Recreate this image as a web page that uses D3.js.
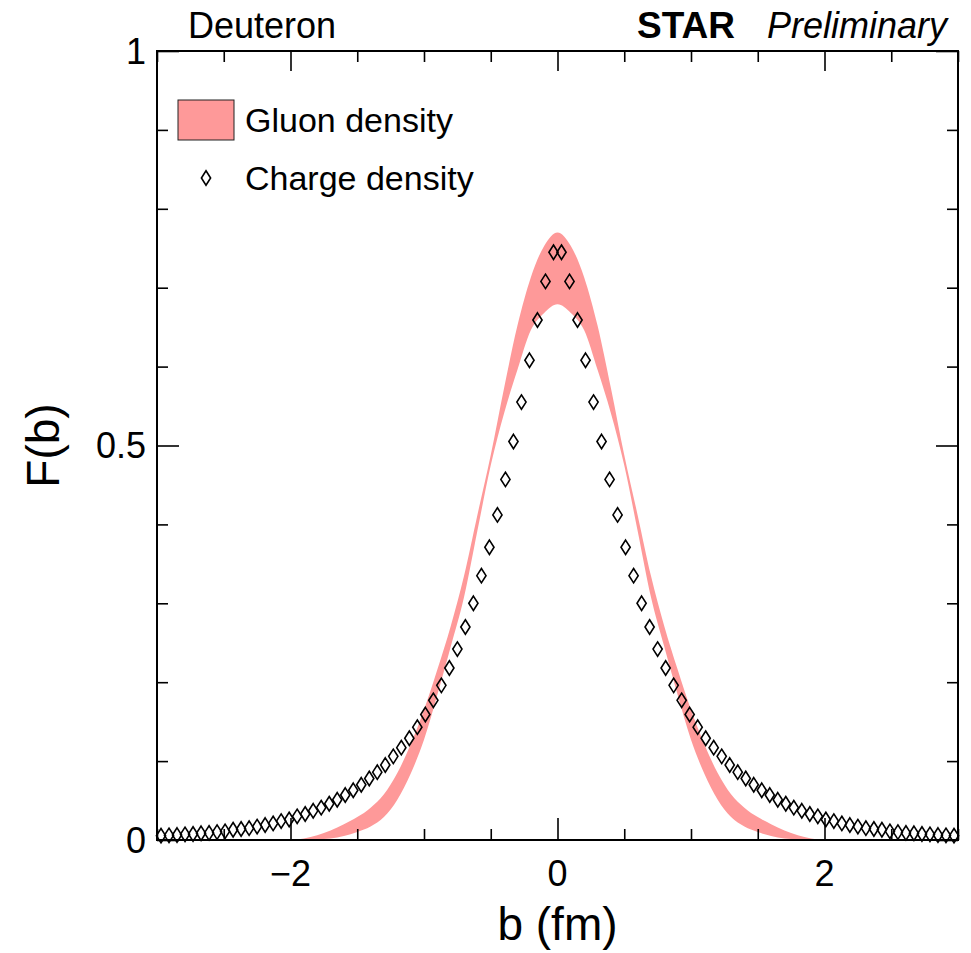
<!DOCTYPE html>
<html>
<head>
<meta charset="utf-8">
<script src="https://cdn.jsdelivr.net/npm/d3@7"></script>
<style>
  html, body { margin: 0; padding: 0; background: #fff; }
  svg { display: block; font-family: "Liberation Sans", Arial, Helvetica, sans-serif; }
</style>
</head>
<body>
<svg id="chart" width="971" height="953"></svg>
<script>
// ---------------- data ----------------
const gluonB = [-2.0,-1.9,-1.8,-1.7,-1.6,-1.5,-1.4,-1.3,-1.2,-1.1,-1.0,-0.9,-0.8,-0.7,-0.6,-0.5,-0.4,-0.3,-0.2,-0.1,
                 0.0, 0.1, 0.2, 0.3, 0.4, 0.5, 0.6, 0.7, 0.8, 0.9, 1.0, 1.1, 1.2, 1.3, 1.4, 1.5, 1.6, 1.7, 1.8, 1.9, 2.0];
const gluonUpper = [0.000,0.002,0.006,0.012,0.020,0.029,0.041,0.058,0.085,0.121,0.165,0.216,0.271,0.335,0.412,0.488,0.573,0.652,0.713,0.753,
                    0.770,
                    0.753,0.713,0.652,0.573,0.488,0.412,0.335,0.271,0.216,0.165,0.121,0.085,0.058,0.041,0.029,0.020,0.012,0.006,0.002,0.000];
const gluonLower = [0.000,0.000,0.001,0.002,0.005,0.010,0.017,0.029,0.051,0.084,0.127,0.184,0.245,0.308,0.392,0.475,0.541,0.596,0.646,0.668,
                    0.679,
                    0.668,0.646,0.596,0.541,0.475,0.392,0.308,0.245,0.184,0.127,0.084,0.051,0.029,0.017,0.010,0.005,0.002,0.001,0.000,0.000];

const chargeB = [-2.97,-2.91,-2.85,-2.79,-2.73,-2.67,-2.61,-2.55,-2.49,-2.43,-2.37,-2.31,-2.25,-2.19,-2.13,-2.07,-2.01,-1.95,-1.89,-1.83,
                 -1.77,-1.71,-1.65,-1.59,-1.53,-1.47,-1.41,-1.35,-1.29,-1.23,-1.17,-1.11,-1.05,-0.99,-0.93,-0.87,-0.81,-0.75,-0.69,-0.63,
                 -0.57,-0.51,-0.45,-0.39,-0.33,-0.27,-0.21,-0.15,-0.09,-0.03,
                  0.03, 0.09, 0.15, 0.21, 0.27, 0.33, 0.39, 0.45, 0.51, 0.57, 0.63, 0.69, 0.75, 0.81, 0.87, 0.93, 0.99, 1.05, 1.11, 1.17,
                  1.23, 1.29, 1.35, 1.41, 1.47, 1.53, 1.59, 1.65, 1.71, 1.77, 1.83, 1.89, 1.95, 2.01, 2.07, 2.13, 2.19, 2.25, 2.31, 2.37,
                  2.43, 2.49, 2.55, 2.61, 2.67, 2.73, 2.79, 2.85, 2.91, 2.97];
const chargeF = [0.0055,0.0059,0.0063,0.0072,0.0076,0.0085,0.009,0.010,0.011,0.013,0.014,0.015,0.017,0.019,0.021,0.024,0.026,0.030,0.033,0.037,
                 0.041,0.046,0.051,0.057,0.063,0.070,0.078,0.086,0.095,0.106,0.117,0.129,0.143,0.159,0.177,0.196,0.218,0.242,0.270,0.300,
                 0.335,0.371,0.412,0.457,0.505,0.555,0.608,0.659,0.708,0.745,
                 0.745,0.708,0.659,0.608,0.555,0.505,0.457,0.412,0.371,0.335,0.300,0.270,0.242,0.218,0.196,0.177,0.159,0.143,0.129,0.117,
                 0.106,0.095,0.086,0.078,0.070,0.063,0.057,0.051,0.046,0.041,0.037,0.033,0.030,0.026,0.024,0.021,0.019,0.017,0.015,0.014,
                 0.013,0.011,0.010,0.009,0.0085,0.0076,0.0072,0.0063,0.0059,0.0055];

const xMajorTicks = [-2, 0, 2];
const xMinorTicks = [-3, -2.5, -1.5, -1, -0.5, 0.5, 1, 1.5, 2.5, 3];
const yMajorTicks = [0, 0.5, 1];
const yMinorTicks = [0.1, 0.2, 0.3, 0.4, 0.6, 0.7, 0.8, 0.9];
const xTickLabels = ["\u22122", "0", "2"];
const yTickLabels = ["0", "0.5", "1"];

// ---------------- layout ----------------
const svg = d3.select("#chart");
const L = 157, R = 958, T = 51, B = 840;
const x = d3.scaleLinear().domain([-3, 3]).range([L, R]);
const y = d3.scaleLinear().domain([0, 1]).range([B, T]);
const bandColor = "#fe9999";

// gluon band
const gluon = gluonB.map((b, i) => ({b, lo: gluonLower[i], hi: gluonUpper[i]}));
svg.append("path")
  .datum(gluon)
  .attr("fill", bandColor)
  .attr("d", d3.area().curve(d3.curveMonotoneX)
    .x(d => x(d.b)).y0(d => y(d.lo)).y1(d => y(d.hi)));

// charge density diamonds
const dw = 4.6, dh = 7.2;
const diamond = `M0,${-dh}L${dw},0L0,${dh}L${-dw},0Z`;
svg.append("g").selectAll("path")
  .data(chargeB.map((b, i) => ({b, f: chargeF[i]})))
  .join("path")
  .attr("transform", d => `translate(${x(d.b)},${y(d.f)})`)
  .attr("d", diamond)
  .attr("fill", "none")
  .attr("stroke", "#000")
  .attr("stroke-width", 1.6);

// axes (ticks inside, mirrored)
function ticks(axisFn, scale, vals, size, tr) {
  const g = svg.append("g").attr("transform", tr)
    .call(axisFn(scale).tickValues(vals).tickSize(size).tickFormat(""));
  g.select(".domain").remove();
  g.selectAll("line").attr("stroke", "#000").attr("stroke-width", 1.6);
}
ticks(d3.axisTop, x, xMajorTicks, 22, `translate(0,${B})`);
ticks(d3.axisTop, x, xMinorTicks, 11, `translate(0,${B})`);
ticks(d3.axisBottom, x, xMajorTicks, 20, `translate(0,${T})`);
ticks(d3.axisBottom, x, xMinorTicks, 11, `translate(0,${T})`);
ticks(d3.axisRight, y, yMajorTicks, 22, `translate(${L},0)`);
ticks(d3.axisRight, y, yMinorTicks, 11, `translate(${L},0)`);
ticks(d3.axisLeft, y, yMajorTicks, 22, `translate(${R},0)`);
ticks(d3.axisLeft, y, yMinorTicks, 11, `translate(${R},0)`);

// frame
svg.append("rect").attr("x", L).attr("y", T).attr("width", R - L).attr("height", B - T)
  .attr("fill", "none").attr("stroke", "#000").attr("stroke-width", 2);

// tick labels
svg.append("g").selectAll("text").data(xMajorTicks).join("text")
  .attr("x", d => x(d)).attr("y", 886)
  .attr("text-anchor", "middle").attr("font-size", 36)
  .text((d, i) => xTickLabels[i]);
svg.append("g").selectAll("text").data(yMajorTicks).join("text")
  .attr("x", 146).attr("y", d => y(d)).attr("dy", "0.36em")
  .attr("text-anchor", "end").attr("font-size", 36)
  .text((d, i) => yTickLabels[i]);

// axis titles
svg.append("text").attr("x", (L + R) / 2).attr("y", 940)
  .attr("text-anchor", "middle").attr("font-size", 46).text("b (fm)");
svg.append("text").attr("transform", `translate(59,${(T + B) / 2}) rotate(-90)`)
  .attr("text-anchor", "middle").attr("font-size", 46).text("F(b)");

// top texts
svg.append("text").attr("x", 188).attr("y", 38).attr("font-size", 36).text("Deuteron");
svg.append("text").attr("x", 637).attr("y", 38).attr("font-size", 37).attr("font-weight", "bold").text("STAR");
svg.append("text").attr("x", 767).attr("y", 38).attr("font-size", 36).attr("font-style", "italic").text("Preliminary");

// legend
svg.append("rect").attr("x", 178).attr("y", 100).attr("width", 56).attr("height", 40)
  .attr("fill", bandColor).attr("stroke", "#222").attr("stroke-width", 1);
svg.append("text").attr("x", 245).attr("y", 132).attr("font-size", 34).text("Gluon density");
svg.append("path").attr("transform", "translate(206,178)").attr("d", diamond)
  .attr("fill", "none").attr("stroke", "#000").attr("stroke-width", 1.6);
svg.append("text").attr("x", 245).attr("y", 190).attr("font-size", 34).text("Charge density");
</script>
</body>
</html>
